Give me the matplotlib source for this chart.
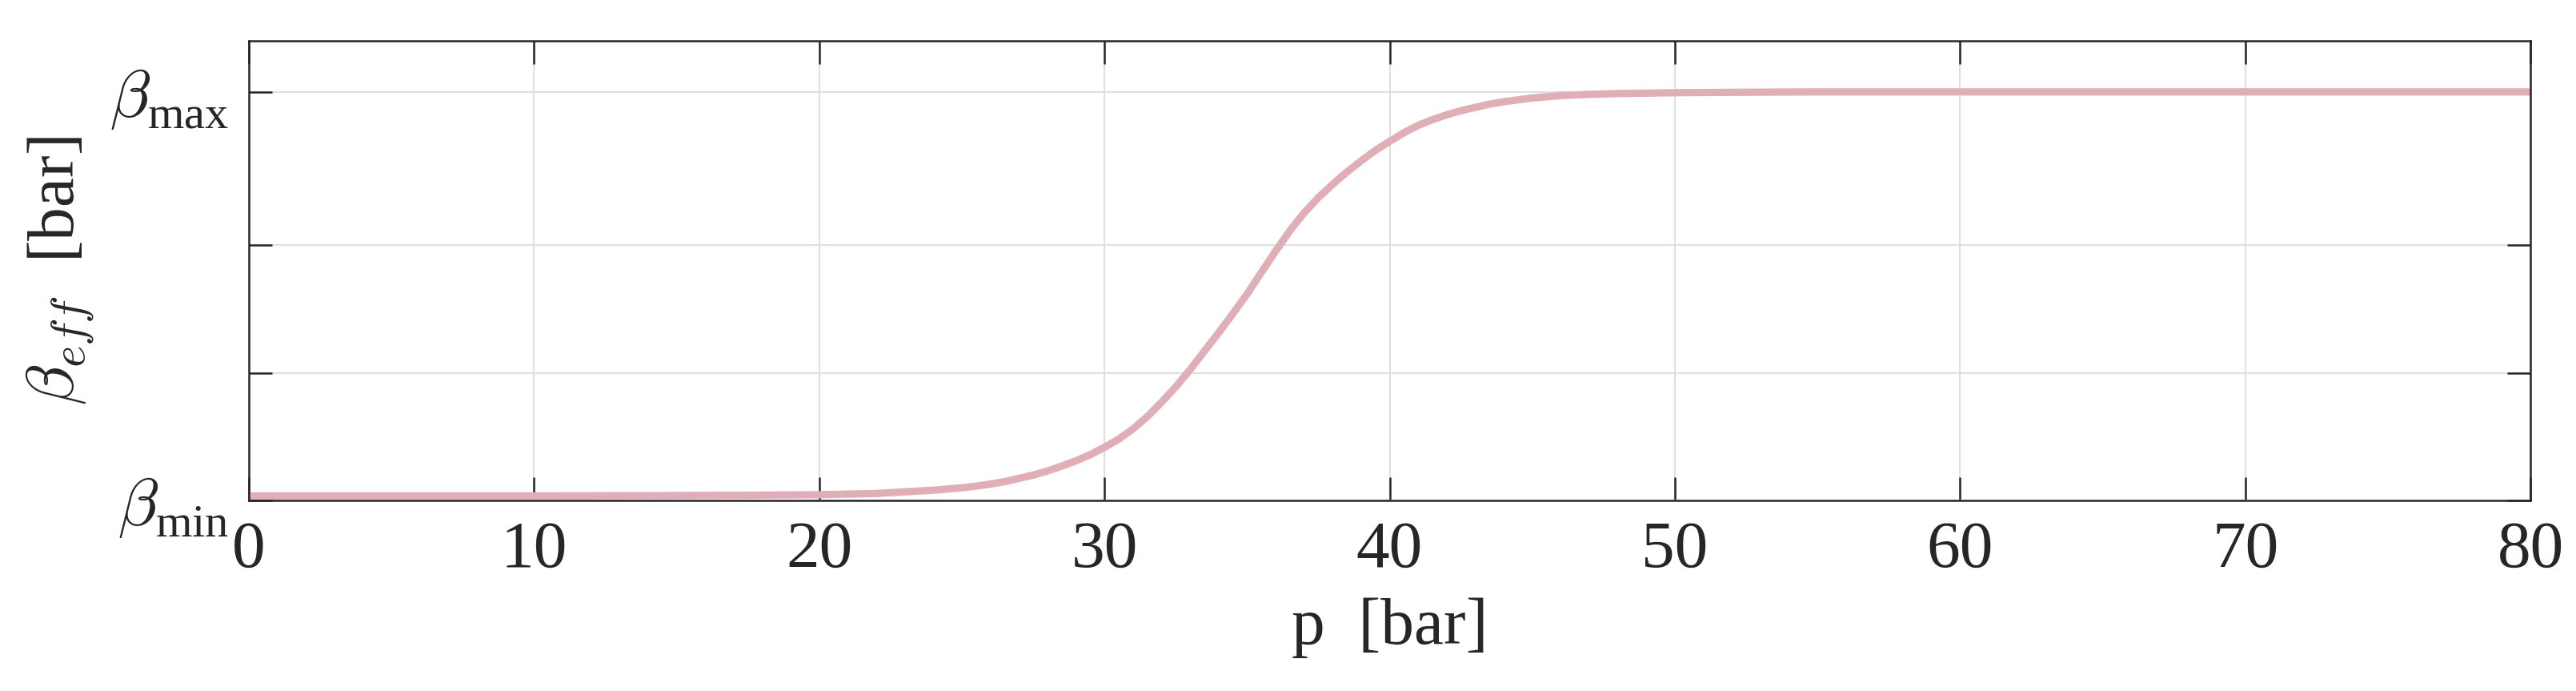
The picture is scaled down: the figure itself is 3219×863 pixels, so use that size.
import matplotlib
matplotlib.use("Agg")
import matplotlib.pyplot as plt

# ---- data ----
p_bar = [0, 5, 10, 15, 18, 20, 22, 24, 24.5, 25, 25.5, 26, 26.5, 27, 27.5, 28,
         28.5, 29, 29.5, 30, 30.5, 31, 31.5, 32, 32.5, 33, 33.5, 34, 34.5, 35,
         35.5, 36, 36.5, 37, 37.5, 38, 38.5, 39, 39.5, 40, 40.5, 41, 41.5, 42,
         42.5, 43, 43.5, 44, 45, 46, 47, 48, 50, 52, 55, 60, 70, 80]
beta_eff = [5176, 5176, 5176, 5192, 5208, 5224, 5272, 5400, 5448, 5496, 5560,
            5640, 5736, 5864, 5992, 6152, 6344, 6552, 6792, 7080, 7400, 7800,
            8280, 8840, 9448, 10120, 10840, 11560, 12312, 13080, 13928, 14760,
            15560, 16260, 16860, 17380, 17860, 18300, 18710, 19064, 19400,
            19688, 19912, 20104, 20264, 20392, 20520, 20616, 20760, 20856,
            20904, 20936, 20968, 20984, 21000, 21000, 21000, 21000]

y_ticks = [5000, 10000, 15000, 21000]
y_tick_labels = [r'$\beta_{\mathdefault{min}}$', '', '', r'$\beta_{\mathdefault{max}}$']
x_ticks = [0, 10, 20, 30, 40, 50, 60, 70, 80]
x_tick_labels = ['0', '10', '20', '30', '40', '50', '60', '70', '80']

plt.rcParams['font.family'] = ['Liberation Serif', 'DejaVu Serif']
plt.rcParams['mathtext.fontset'] = 'cm'

W, H, DPI = 3219, 863, 300
fig = plt.figure(figsize=(W / DPI, H / DPI), dpi=DPI)
ax = fig.add_axes([311 / W, 1 - 625 / H, (3162 - 311) / W, (625 - 51) / H])

ax.plot(p_bar, beta_eff, color='#dfaeb7', lw=2.2, solid_capstyle='butt',
        solid_joinstyle='round', zorder=3)

ax.set_xlim(0, 80)
ax.set_ylim(5000, 23000)
ax.set_xticks(x_ticks)
ax.set_xticklabels(x_tick_labels)
ax.set_yticks(y_ticks)
ax.set_yticklabels(y_tick_labels)

dark = '#262626'
ax.grid(True, color='#dfdfdf', lw=0.5, zorder=0)
ax.set_axisbelow(True)
for s in ax.spines.values():
    s.set_color(dark)
    s.set_linewidth(0.6)
    s.set_zorder(4)
ax.tick_params(axis='both', which='major', direction='in', length=7, width=0.6,
               color=dark, labelcolor=dark, labelsize=20, top=True, right=True)
ax.tick_params(axis='x', pad=6)
ax.tick_params(axis='y', pad=6)

ax.set_xlabel('p  [bar]', fontsize=20, color=dark, labelpad=5)
ax.set_ylabel(r'$\beta_{eff}$  [bar]', fontsize=20, color=dark, labelpad=4)

fig.savefig('out.png', dpi=DPI, facecolor='white')
